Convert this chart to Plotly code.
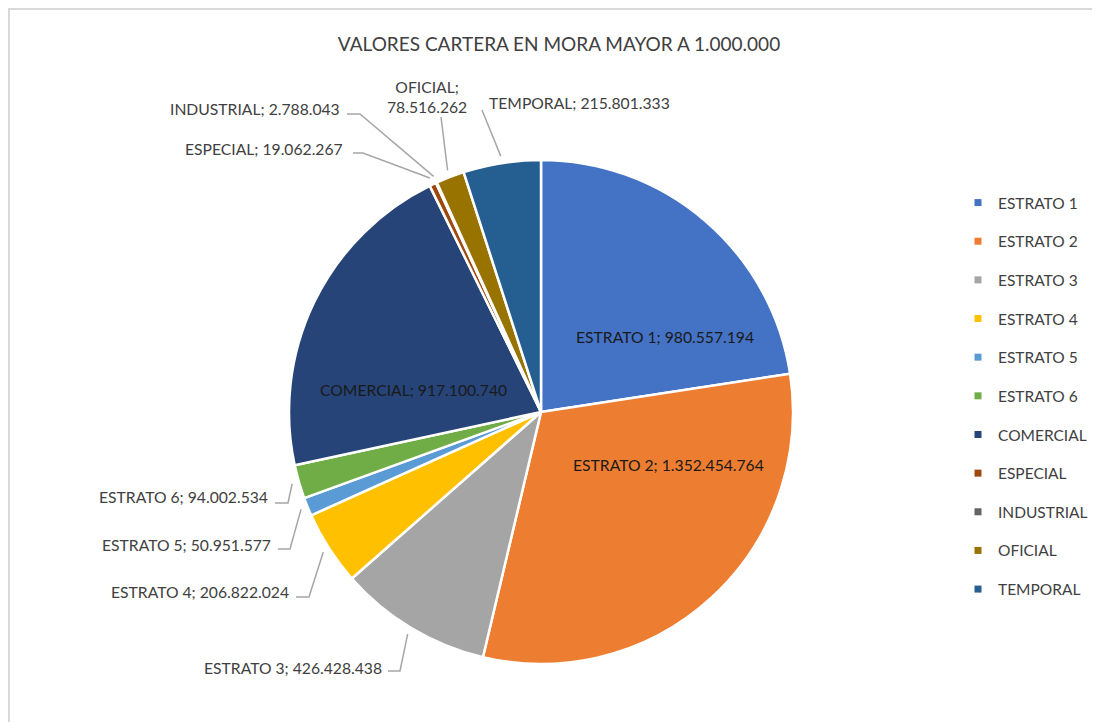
import math
import plotly.graph_objects as go

# Datos de la cartera en mora
categorias = ['ESTRATO 1', 'ESTRATO 2', 'ESTRATO 3', 'ESTRATO 4', 'ESTRATO 5', 'ESTRATO 6',
              'COMERCIAL', 'ESPECIAL', 'INDUSTRIAL', 'OFICIAL', 'TEMPORAL']
valores = [980557194, 1352454764, 426428438, 206822024, 50951577, 94002534,
           917100740, 19062267, 2788043, 78516262, 215801333]
colores = ['#4472C4', '#ED7D31', '#A5A5A5', '#FFC000', '#5B9BD5', '#70AD47',
           '#264478', '#9E480E', '#636363', '#997300', '#255E91']
titulo = 'VALORES CARTERA EN MORA MAYOR A 1.000.000'

# la pagina html deja 8px de margen en el body
OX, OY = 8, 8
W, H = 1100 - OX, 722 - OY
FUENTE = 'Lato'
GRIS_TEXTO = '#404040'
GRIS_LINEA = '#A6A6A6'
TAM = 15.7

# Geometria del pastel (pixeles de la ventana)
CX, CY, R = 541, 412, 252


def px(x):
    return (x - OX) / W


def py(y):
    return 1 - (y - OY) / H


def fmt(v):
    return f"{v:,}".replace(',', '.')


# Posicion de las etiquetas (pixeles): modo, x, y, inicio de linea, codo
pos_etiquetas = {
    'ESTRATO 1': ('in', 665, 337),
    'ESTRATO 2': ('in', 668, 465),
    'COMERCIAL': ('in', 413, 390),
    'ESTRATO 3': ('out', 384, 668, (388, 671), (400, 671)),
    'ESTRATO 4': ('out', 291, 592, (296, 597), (309, 597)),
    'ESTRATO 5': ('out', 273, 545, (278, 549), (290, 549)),
    'ESTRATO 6': ('out', 270, 497, (275, 503), (288, 503)),
    'ESPECIAL': ('out', 345, 149, (353, 153), (363, 153)),
    'INDUSTRIAL': ('out', 342, 109, (347, 114), (360, 114)),
    'OFICIAL': ('top', 427, 97, (441, 117), None),
    'TEMPORAL': ('topl', 487, 103, (482, 110), None),
}

fig = go.Figure()

fig.add_trace(go.Pie(
    labels=categorias,
    values=valores,
    sort=False,
    direction='clockwise',
    rotation=0,
    marker=dict(colors=colores, line=dict(color='white', width=2.5)),
    textinfo='none',
    showlegend=False,
    domain=dict(x=[px(CX - R), px(CX + R)], y=[py(CY + R), py(CY - R)]),
))

# Leyenda con entradas separadas
for cat, col in zip(categorias, colores):
    fig.add_trace(go.Scatter(
        x=[None], y=[None], mode='markers', name=cat, legendgroup=cat,
        marker=dict(symbol='square', size=7, color=col),
        showlegend=True,
    ))

total = sum(valores)
acum = 0
anotaciones = []
lineas = []
for cat, val in zip(categorias, valores):
    medio = (acum + val / 2) / total * 2 * math.pi
    acum += val
    texto = f"{cat}; {fmt(val)}"
    p = pos_etiquetas[cat]
    base = dict(x=px(p[1]), y=py(p[2]), xref='paper', yref='paper', showarrow=False,
                yanchor='middle', font=dict(family=FUENTE, size=TAM, color=GRIS_TEXTO))
    if p[0] == 'in':
        base.update(text=texto, xanchor='center',
                    font=dict(family=FUENTE, size=TAM, color='#1a1a1a'))
        anotaciones.append(base)
        continue
    if p[0] == 'top':
        base.update(text=f"{cat};<br>{fmt(val)}", xanchor='center', align='center')
    elif p[0] == 'topl':
        base.update(text=texto, xanchor='left')
    else:
        base.update(text=texto, xanchor='right')
    anotaciones.append(base)
    # linea guia hasta el borde del sector
    ex = CX + (R + 7) * math.sin(medio)
    ey = CY - (R + 7) * math.cos(medio)
    puntos = [p[3]] + ([p[4]] if p[4] else []) + [(ex, ey)]
    path = 'M ' + ' L '.join(f"{px(a):.5f},{py(b):.5f}" for a, b in puntos)
    lineas.append(dict(type='path', path=path, xref='paper', yref='paper',
                       line=dict(color=GRIS_LINEA, width=1.5)))

# Marco del grafico
lineas.append(dict(type='rect', xref='paper', yref='paper',
                   x0=px(9), y0=py(730), x1=px(1110), y1=py(9),
                   line=dict(color='#D9D9D9', width=2)))

fig.update_layout(
    width=W, height=H,
    margin=dict(l=0, r=0, t=0, b=0),
    paper_bgcolor='white',
    plot_bgcolor='white',
    title=dict(text=titulo, x=px(559), y=py(44), xanchor='center', yanchor='middle',
               font=dict(family=FUENTE, size=19, color=GRIS_TEXTO)),
    xaxis=dict(visible=False),
    yaxis=dict(visible=False),
    legend=dict(x=px(958), y=py(186), xanchor='left', yanchor='top',
                font=dict(family=FUENTE, size=15.5, color=GRIS_TEXTO),
                tracegroupgap=15.5, itemwidth=30, bgcolor='rgba(0,0,0,0)'),
    annotations=anotaciones,
    shapes=lineas,
    font=dict(family=FUENTE),
)

fig.write_html("out.html")
